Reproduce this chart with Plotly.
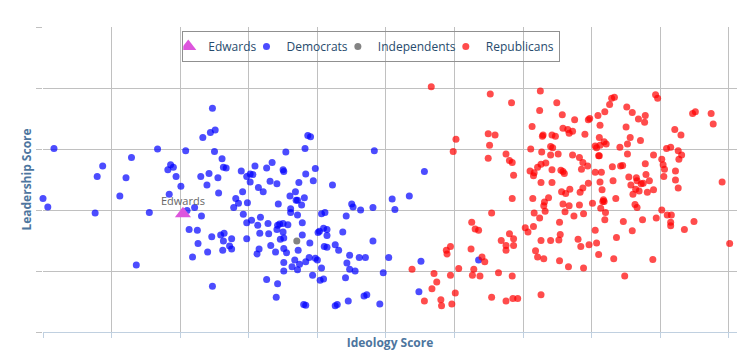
import plotly.graph_objects as go

# Democrats (ideology score, leadership score)
dem_x = [0.16,0.00,0.07,0.79,0.87,1.12,1.21,1.29,1.67,0.76,1.55,1.36,
         2.47,2.33,2.44,2.51,2.08,2.50,2.61,2.63,2.67,1.86,1.90,1.82,1.94,2.01,1.84,2.30,2.42,2.55,
         2.39,2.56,2.89,2.97,3.02,3.06,3.09,3.02,2.91,2.81,2.85,2.78,2.98,2.92,2.10,2.21,2.31,3.14,
         3.21,3.26,3.34,3.31,3.41,3.50,3.51,3.54,3.43,3.60,3.68,3.73,3.69,3.71,3.81,3.77,3.61,3.61,
         3.71,3.83,3.94,3.97,3.82,3.86,3.90,4.22,4.06,4.11,4.42,4.50,4.52,4.63,4.81,4.83,5.09,5.13,
         5.34,3.04,3.17,2.13,2.25,2.26,2.18,2.40,2.46,2.59,2.64,2.75,2.63,2.62,2.72,2.75,2.47,2.97,
         2.97,3.13,3.16,3.28,3.29,3.15,3.12,3.32,3.39,3.41,3.42,3.45,3.50,3.57,3.50,3.46,3.51,3.51,
         3.55,3.78,3.78,3.72,3.89,3.51,3.51,3.63,3.67,3.71,3.74,3.83,3.88,3.97,4.00,4.06,3.93,4.04,
         4.09,3.26,3.42,3.40,3.80,3.83,4.01,4.03,4.09,4.14,4.14,4.10,4.14,4.26,4.31,4.37,4.47,4.43,
         4.47,4.55,4.61,4.70,4.81,4.41,4.96,5.04,4.45,4.26,4.29,4.68,4.72,4.91,5.56,6.35,5.51,5.48]
dem_y = [3.01,2.19,2.05,2.55,2.72,2.23,2.53,2.86,3.00,1.95,1.96,1.10,
         3.67,3.19,3.27,3.31,2.97,2.96,2.84,2.70,2.69,2.74,2.70,2.66,2.55,2.39,2.26,2.55,2.60,2.53,
         2.41,2.28,2.64,2.55,2.59,2.58,2.72,2.46,2.30,2.19,2.11,2.04,2.12,1.93,1.99,2.04,1.90,2.37,
         2.30,2.69,2.78,2.47,2.43,2.66,2.63,2.95,2.10,2.23,2.30,2.45,2.16,2.16,2.20,2.08,2.02,1.96,
         1.92,2.59,2.48,2.68,3.01,3.22,3.20,2.41,1.94,1.96,1.90,2.10,2.05,2.00,2.04,2.97,2.18,2.01,
         2.23,1.83,1.88,1.68,1.67,1.45,1.23,1.31,1.56,1.59,1.62,1.53,1.49,1.34,1.41,1.36,0.75,1.79,
         1.53,1.75,1.62,1.78,1.61,1.36,1.28,1.42,1.31,1.68,1.75,1.77,1.78,1.76,1.64,1.52,1.54,1.37,
         1.30,1.79,1.59,1.34,1.46,1.14,1.00,1.07,1.18,1.02,1.11,1.15,1.22,1.21,1.18,1.05,0.93,0.85,
         0.87,0.86,0.79,0.57,0.45,0.44,1.63,1.65,1.70,1.68,1.58,1.40,1.39,1.43,1.34,1.64,1.26,1.13,
         1.03,1.00,1.22,1.22,1.49,0.89,0.97,1.22,0.51,0.43,0.45,0.59,0.61,0.46,2.63,1.18,1.16,0.66]

# Independents
ind_x = [3.70]
ind_y = [1.49]

# Republicans
rep_x = [5.66,6.52,6.83,7.25,7.49,7.24,7.57,7.75,7.95,7.97,7.13,7.58,7.65,7.72,7.67,7.29,7.28,7.42,
         7.47,7.90,8.12,6.49,6.59,6.02,6.51,5.98,6.49,6.75,6.80,6.84,6.86,6.84,6.54,7.11,7.27,7.40,
         7.43,7.40,7.51,7.72,7.82,7.87,7.94,7.85,8.05,8.07,8.10,8.05,7.10,7.16,7.15,7.21,7.26,7.33,
         7.42,7.55,7.58,7.60,7.26,7.42,7.56,7.62,7.68,7.87,7.83,7.95,7.14,7.37,7.31,7.30,7.32,7.58,
         7.67,7.82,7.61,7.16,7.88,8.01,7.24,7.74,6.25,6.30,6.35,7.03,7.07,7.15,7.53,8.05,6.80,6.86,
         6.68,6.75,6.86,6.75,7.26,7.40,7.52,7.54,7.80,7.84,7.96,8.07,8.10,7.18,7.21,7.30,7.53,7.66,
         7.88,5.88,5.94,5.89,6.24,6.40,6.44,5.38,5.70,5.74,5.67,5.56,5.80,5.81,5.96,6.01,5.94,6.06,
         6.28,6.26,6.37,6.64,6.84,6.54,6.75,6.85,6.92,7.26,8.29,8.33,8.26,8.19,8.09,8.11,8.18,8.21,
         8.12,8.11,8.51,8.59,8.68,8.78,8.77,8.50,8.56,8.71,8.41,8.52,8.52,8.93,8.96,9.47,9.51,9.74,
         9.77,9.21,9.30,9.09,9.15,9.26,9.31,9.27,8.90,9.02,9.04,9.06,9.05,9.22,9.22,9.26,9.90,8.14,
         8.30,8.42,8.45,8.78,8.79,8.54,8.65,8.66,8.84,8.72,8.75,8.57,8.12,8.31,8.15,8.64,8.69,8.60,
         8.81,8.90,8.35,8.17,8.16,8.18,8.63,8.66,8.13,8.20,9.02,9.10,9.16,8.19,8.46,8.74,8.59,8.36,
         8.32,8.48,8.89,8.94,9.15,9.15,9.35,9.49,10.01]
rep_y = [4.02,3.90,3.76,3.95,3.76,3.63,3.56,3.48,3.48,3.50,3.37,3.34,3.32,3.29,3.26,3.23,3.21,3.23,
         3.21,3.24,3.39,3.25,3.23,3.16,3.06,2.96,2.85,2.92,2.81,2.78,2.57,2.19,1.95,3.00,2.95,3.04,
         3.02,2.90,2.92,2.90,2.86,2.78,2.72,2.67,3.05,3.02,2.89,2.62,2.64,2.61,2.56,2.70,2.75,2.77,
         2.66,2.65,2.63,2.60,2.45,2.45,2.30,2.27,2.34,2.36,2.29,2.44,2.19,2.20,2.13,2.07,1.98,2.10,
         2.07,2.08,1.97,1.95,1.94,2.11,1.87,1.90,1.80,1.69,1.67,1.71,1.64,1.73,1.80,1.67,1.61,1.53,
         1.50,1.42,1.42,1.34,1.50,1.50,1.51,1.60,1.52,1.40,1.43,1.46,1.27,1.33,1.23,1.20,1.17,1.07,
         1.05,1.34,1.40,1.28,1.36,1.23,1.15,1.03,0.96,0.82,0.71,0.51,0.53,0.43,0.46,0.64,0.93,1.04,
         1.03,0.93,0.92,0.97,0.92,0.57,0.51,0.55,0.55,0.61,3.83,3.85,3.73,3.61,3.55,3.19,3.12,3.08,
         3.06,2.89,3.69,3.60,3.49,3.55,3.44,3.36,3.19,3.14,3.03,3.08,2.92,3.89,3.83,3.58,3.61,3.58,
         3.41,3.32,3.23,3.01,3.03,2.97,2.90,2.83,2.90,2.83,2.74,2.67,2.55,2.64,2.49,2.36,2.46,2.62,
         2.71,2.72,2.73,2.76,2.58,2.54,2.53,2.48,2.48,2.43,2.44,2.41,2.46,2.48,2.33,2.34,2.31,2.26,
         2.29,2.33,2.19,2.17,2.14,2.14,2.09,2.04,2.03,1.96,2.00,1.92,1.92,1.84,1.81,1.84,1.66,1.55,
         1.20,0.92,1.19,1.87,1.80,1.74,1.68,1.81,1.45]

# Highlighted member
edw_name = ["Edwards"]
edw_x = [2.04]
edw_y = [1.94]

x_ticks = [0, 1, 2, 3, 4, 5, 6, 7, 8, 9, 10]
y_ticks = [0, 1, 2, 3, 4, 5]

FONT = "Open Sans"

fig = go.Figure()
fig.add_trace(go.Scatter(x=dem_x, y=dem_y, mode="markers", name="Democrats", legendrank=2,
                         marker=dict(size=7, color="rgba(0,0,255,0.7)", line=dict(width=0)),
                         cliponaxis=False))
fig.add_trace(go.Scatter(x=ind_x, y=ind_y, mode="markers", name="Independents", legendrank=3,
                         marker=dict(size=7, color="rgba(90,90,90,0.75)", line=dict(width=0)),
                         cliponaxis=False))
fig.add_trace(go.Scatter(x=rep_x, y=rep_y, mode="markers", name="Republicans", legendrank=4,
                         marker=dict(size=7, color="rgba(255,0,0,0.7)", line=dict(width=0)),
                         cliponaxis=False))
fig.add_trace(go.Scatter(x=edw_x, y=edw_y, mode="markers", name="Edwards", legendrank=1,
                         marker=dict(size=14, symbol="triangle-up", color="#dd55dd", line=dict(width=0)),
                         cliponaxis=False))

fig.add_annotation(x=edw_x[0], y=edw_y[0], text=edw_name[0], showarrow=False,
                   yshift=13, xanchor="center", yanchor="middle",
                   font=dict(family=FONT, size=11, color="#666666"))

# the page body adds an 8px offset; margins compensate so the plot area sits at x 43-737, y 27-332
fig.update_layout(
    width=755, height=357,
    margin=dict(l=35, r=26, t=19, b=33, autoexpand=False),
    paper_bgcolor="white", plot_bgcolor="white",
    font=dict(family=FONT, size=12, color="#274b6d"),
    showlegend=True,
    legend=dict(orientation="h", x=0.473, xanchor="center", y=0.987, yanchor="top",
                bgcolor="rgba(0,0,0,0)", bordercolor="#909090", borderwidth=1,
                font=dict(family=FONT, size=12, color="#274b6d"), itemwidth=30,
                indentation=-15),
    xaxis=dict(range=[0, 10.117], tickvals=x_ticks, showticklabels=False, automargin=True,
               showgrid=True, gridcolor="#C0C0C0", gridwidth=1, zeroline=False,
               ticks="outside", ticklen=5, tickcolor="#C0D0E0",
               showline=True, linecolor="#C0D0E0", linewidth=1,
               title=dict(text="<b>Ideology Score</b>", standoff=1,
                          font=dict(family=FONT, size=12, color="#4d759e"))),
    yaxis=dict(range=[0, 5], tickvals=y_ticks, showticklabels=False, automargin=True,
               showgrid=True, gridcolor="#C0C0C0", gridwidth=1, zeroline=False,
               ticks="outside", ticklen=6, tickcolor="#C0C0C0", showline=False,
               title=dict(text="<b>Leadership Score</b>", standoff=1,
                          font=dict(family=FONT, size=12, color="#4d759e"))),
)

fig.write_html("out.html")
